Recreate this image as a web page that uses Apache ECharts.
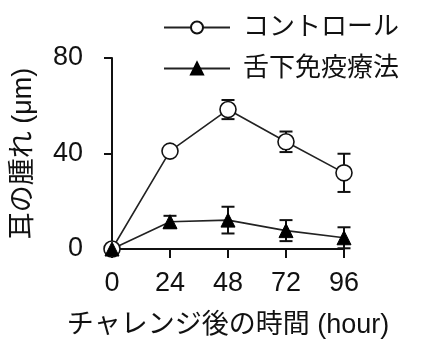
<!DOCTYPE html>
<html>
<head>
<meta charset="utf-8">
<script src="https://cdn.jsdelivr.net/npm/echarts@6/dist/echarts.min.js"></script>
<style>html,body{margin:0;padding:0;background:#fff}#c{width:428px;height:343px}</style>
</head>
<body>
<div id="c"></div>
<script>
var hours = [0, 24, 48, 72, 96];
var xTicks = [0, 24, 48, 72, 96];
var yTicks = [0, 40, 80];
var controlName = 'コントロール';
var immunoName = '舌下免疫療法';
var controlMean = [0, 41, 58.4, 44.9, 31.9];
var controlErr = [0, 0, 4, 4.3, 8];
var immunoMean = [0, 11.4, 12.1, 7.7, 4.7];
var immunoErr = [0, 2.5, 5.6, 4.4, 4.4];
var xTitle = 'チャレンジ後の時間 (hour)';
var yTitle = '耳の腫れ (μm)';

var FONT = '"Liberation Sans", "Noto Sans CJK JP", sans-serif';

function pairs(xs, ys) { return xs.map(function (x, i) { return [x, ys[i]]; }); }
function errData(xs, ys, es) { return xs.map(function (x, i) { return [x, ys[i], es[i]]; }); }

function errRender(params, api) {
  var x = api.value(0), y = api.value(1), e = api.value(2);
  if (!e) return null;
  var top = api.coord([x, y + e]);
  var bot = api.coord([x, y - e]);
  var w = 6.5;
  var st = { stroke: '#111', lineWidth: 2 };
  return {
    type: 'group',
    children: [
      { type: 'line', shape: { x1: top[0], y1: top[1], x2: bot[0], y2: bot[1] }, style: st },
      { type: 'line', shape: { x1: top[0] - w, y1: top[1], x2: top[0] + w, y2: top[1] }, style: st },
      { type: 'line', shape: { x1: bot[0] - w, y1: bot[1], x2: bot[0] + w, y2: bot[1] }, style: st }
    ]
  };
}

var chart = echarts.init(document.getElementById('c'), null, { renderer: 'canvas' });
chart.setOption({
  animation: false,
  backgroundColor: '#fff',
  grid: { left: 112, right: 84, top: 58, bottom: 94, containLabel: false, outerBoundsMode: 'none' },
  legend: {
    orient: 'vertical',
    left: 158,
    top: 7,
    itemWidth: 66,
    itemHeight: 15,
    itemGap: 10,
    data: [controlName, immunoName],
    textStyle: { fontFamily: FONT, fontSize: 26, color: '#111', padding: [0, 0, 0, 8], lineHeight: 31 }
  },
  xAxis: {
    type: 'value',
    min: 0, max: 96, interval: 24,
    name: xTitle,
    nameLocation: 'middle',
    nameGap: 63,
    nameTextStyle: { fontFamily: FONT, fontSize: 27, color: '#111' },
    axisLine: { show: true, lineStyle: { color: '#111', width: 2 } },
    axisTick: { show: true, length: 9, lineStyle: { color: '#111', width: 2 } },
    axisLabel: {
      margin: 21, fontFamily: FONT, fontSize: 27, color: '#111',
      customValues: xTicks
    },
    splitLine: { show: false }
  },
  yAxis: {
    type: 'value',
    min: 0, max: 80, interval: 40,
    name: yTitle,
    nameLocation: 'middle',
    nameGap: 75,
    nameRotate: 90,
    nameTextStyle: { fontFamily: FONT, fontSize: 27, color: '#111' },
    axisLine: { show: true, lineStyle: { color: '#111', width: 2 } },
    axisTick: { show: true, length: 8, lineStyle: { color: '#111', width: 2 } },
    axisLabel: { margin: 29, fontFamily: FONT, fontSize: 27, color: '#111', customValues: yTicks },
    splitLine: { show: false }
  },
  series: [
    {
      type: 'custom', name: 'ctrlErr', renderItem: errRender, z: 1,
      data: errData(hours, controlMean, controlErr), silent: true
    },
    {
      type: 'custom', name: 'immErr', renderItem: errRender, z: 1,
      data: errData(hours, immunoMean, immunoErr), silent: true
    },
    {
      type: 'line', name: controlName, z: 3,
      data: pairs(hours, controlMean),
      symbol: 'circle', symbolSize: 16, showAllSymbol: true,
      lineStyle: { color: '#222', width: 1.6 },
      itemStyle: { color: '#fff', borderColor: '#111', borderWidth: 1.6 }
    },
    {
      type: 'line', name: immunoName, z: 3,
      data: pairs(hours, immunoMean),
      symbol: 'triangle', symbolSize: 14, showAllSymbol: true,
      lineStyle: { color: '#222', width: 1.6 },
      itemStyle: { color: '#000', borderColor: '#000', borderWidth: 1 }
    }
  ]
});
</script>
</body>
</html>
